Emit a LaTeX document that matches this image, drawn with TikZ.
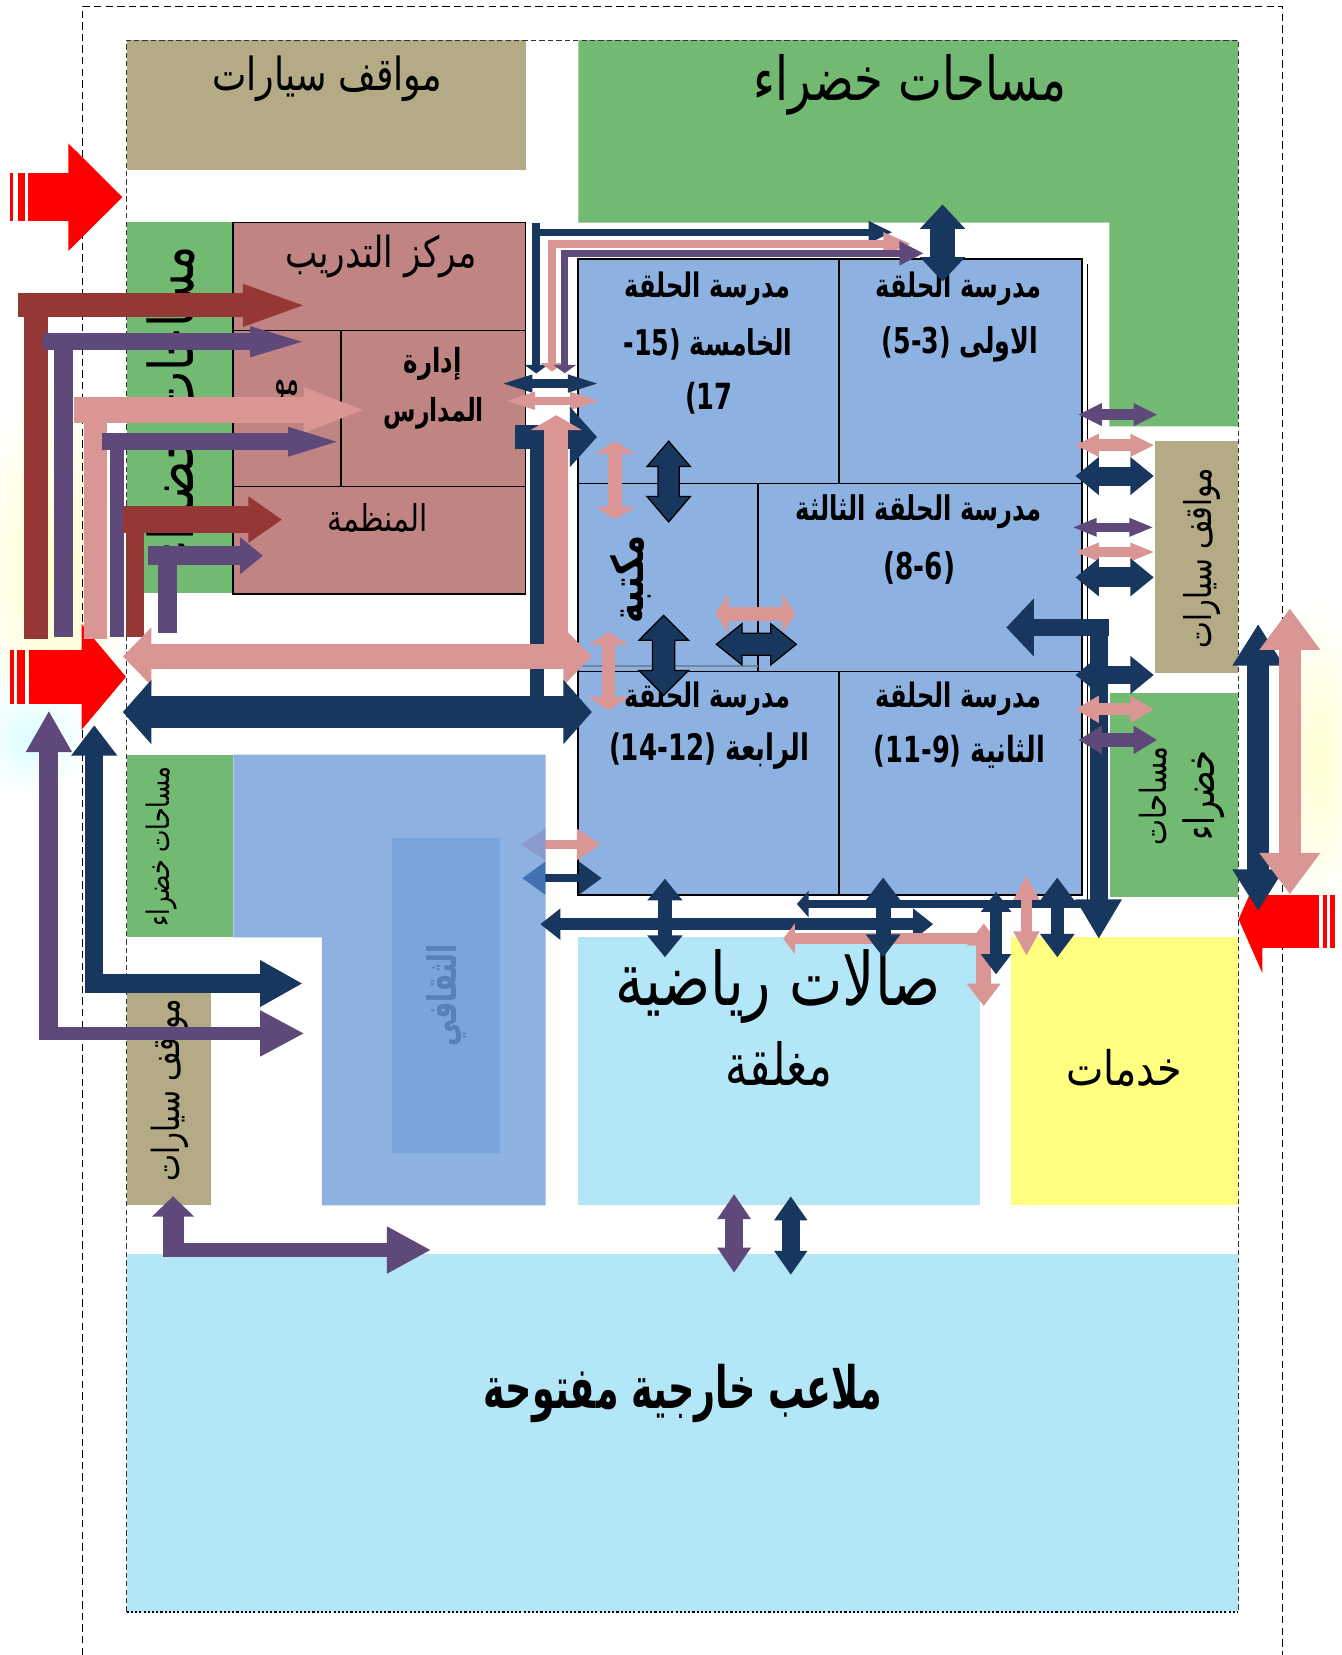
\documentclass[tikz,border=0pt]{standalone}
\usepackage{fontspec}
\usepackage{graphicx}
\setmainfont{DejaVu Sans}
\newfontfamily\arabicfont[Script=Arabic]{DejaVu Sans}
\TeXXeTstate=1
\definecolor{cNavy}{HTML}{17375E}
\definecolor{cPink}{HTML}{D99694}
\definecolor{cPurple}{HTML}{5F497A}
\definecolor{cDRed}{HTML}{953735}
\definecolor{cRed}{HTML}{FF0000}
\definecolor{cGreen}{HTML}{72B972}
\definecolor{cTan}{HTML}{B4AB86}
\definecolor{cBrown}{HTML}{C08583}
\definecolor{cBlue}{HTML}{8DB2E1}
\definecolor{cInner}{HTML}{79A5DA}
\definecolor{cCyan}{HTML}{B3E7F8}
\definecolor{cYellow}{HTML}{FFFF80}
\definecolor{cLav}{HTML}{8A9ACB}
\definecolor{cSteel}{HTML}{4471B2}
\definecolor{cCult}{HTML}{5A80B8}
\newcommand{\AR}[1]{{\arabicfont\beginR #1\endR}}
\newcommand{\ARB}[1]{{\arabicfont\bfseries\beginR #1\endR}}
\newcommand{\fitw}[3][1.25]{\scalebox{1}[#1]{\resizebox{#2pt}{!}{#3}}}
\newcommand{\tri}[6]{\begin{scope}[shift={(#2,#3)},rotate=#4]\fill[#1] (0,0) -- (-#5,#6/2) -- (-#5,-#6/2) -- cycle;\end{scope}}
\newcommand{\hdbl}[7]{\draw[#1,line width=#5pt] ({#3+#6-0.5},#2) -- ({#4-#6+0.5},#2);\tri{#1}{#3}{#2}{180}{#6}{#7}\tri{#1}{#4}{#2}{0}{#6}{#7}}
\newcommand{\vdbl}[7]{\draw[#1,line width=#5pt] (#2,{#3+#6-0.5}) -- (#2,{#4-#6+0.5});\tri{#1}{#2}{#3}{90}{#6}{#7}\tri{#1}{#2}{#4}{270}{#6}{#7}}
\newcommand{\vdblO}[6]{\filldraw[fill=cNavy,draw=black,line width=1.2pt] (#1,#2) -- ({#1+#6/2},{#2+#5}) -- ({#1+#4/2},{#2+#5}) -- ({#1+#4/2},{#3-#5}) -- ({#1+#6/2},{#3-#5}) -- (#1,#3) -- ({#1-#6/2},{#3-#5}) -- ({#1-#4/2},{#3-#5}) -- ({#1-#4/2},{#2+#5}) -- ({#1-#6/2},{#2+#5}) -- cycle;}
\newcommand{\hdblO}[6]{\filldraw[fill=cNavy,draw=black,line width=1.2pt] (#2,#1) -- ({#2+#5},{#1-#6/2}) -- ({#2+#5},{#1-#4/2}) -- ({#3-#5},{#1-#4/2}) -- ({#3-#5},{#1-#6/2}) -- (#3,#1) -- ({#3-#5},{#1+#6/2}) -- ({#3-#5},{#1+#4/2}) -- ({#2+#5},{#1+#4/2}) -- ({#2+#5},{#1+#6/2}) -- cycle;}
\begin{document}
\begin{tikzpicture}[x=1pt,y=-1pt,line cap=butt,line join=miter]
\useasboundingbox (0,0) rectangle (1271,1568);
\fill[white] (0,0) rectangle (1271,1568);
% faint background glows
\shade[inner color=yellow!22, outer color=white] (50,540) ellipse (75 and 190);
\shade[inner color=cyan!14, outer color=white] (30,700) ellipse (55 and 55);
\shade[inner color=yellow!18, outer color=white] (1250,720) ellipse (40 and 160);
% outer dashed boundary
\draw[dash pattern=on 7pt off 4pt,line width=1.4pt] (78,1568) -- (78,6) -- (1215,6) -- (1215,1568);
% zones
\fill[cTan] (120,38) rectangle (498,161);
\fill[cGreen] (548,38) -- (1173,38) -- (1173,404) -- (1051,404) -- (1051,211) -- (548,211) -- cycle;
\fill[cGreen] (120,210) rectangle (221,562);
\filldraw[fill=cBrown,draw=black,line width=1.5pt] (221,211) rectangle (498,563);
\draw[line width=1.5pt] (221,313) -- (498,313) (221,461) -- (498,461) (323,313) -- (323,461);
\fill[cGreen] (120,715) rectangle (221,888);
\fill[cBlue] (221,715) -- (517,715) -- (517,1142) -- (305,1142) -- (305,888) -- (221,888) -- cycle;
\fill[cInner] (371,794) rectangle (474,1092);
\fill[cTan] (120,940) rectangle (200,1142);
\fill[cCyan] (548,888) rectangle (928,1142);
\fill[cYellow] (958,888) rectangle (1173,1142);
\fill[cTan] (1094,418) rectangle (1173,638);
\fill[cGreen] (1052,657) rectangle (1173,850);
\fill[cCyan] (120,1188) rectangle (1173,1527);
% inner dashed boundary
\draw[black!80,dash pattern=on 5pt off 3pt,line width=1pt] (120,1527) -- (120,38) -- (1173,38) -- (1173,1527);
\draw[dash pattern=on 2pt off 2pt,line width=1.6pt] (120,1527) -- (1173,1527);
% school block
\draw[line width=1.2pt] (1030,250) -- (1030,853) -- (950,853);
\filldraw[fill=cBlue,draw=black,line width=2pt] (548,245) rectangle (1025,848);
\draw[line width=1.5pt] (548,458) -- (1025,458) (795,245) -- (795,458) (718,458) -- (718,636) (548,636) -- (1025,636) (795,636) -- (795,848);
\draw[cNavy!60,line width=1pt] (548,631) -- (718,631);
% texts
\node (tPark1) at (310,75) {\fitw{218}{\AR{مواقف سيارات}}};
\node (tGreen1) at (862,80) {\fitw[1.3]{296}{\AR{مساحات خضراء}}};
\node (tTrain) at (361,243) {\fitw{181}{\AR{مركز التدريب}}};
\node (tAdm1) at (410,345) {\fitw[1.35]{55}{\ARB{إدارة}}};
\node (tAdm2) at (411,392) {\fitw[1.35]{95}{\ARB{المدارس}}};
\node (tOrg) at (358,491) {\fitw{95}{\AR{المنظمة}}};
\node (tHid) at (272,372) {\fitw[1.9]{24}{\AR{مو}}};
\node[rotate=90] (tGreen2) at (168,383) {\fitw[1.3]{300}{\AR{مساحات خضراء}}};
\node (s5a) at (670.5,274) {\fitw[1.4]{157}{\ARB{مدرسة الحلقة}}};
\node (s5b) at (671,326) {\fitw[1.4]{160}{\bfseries -15) \ARB{الخامسة}}};
\node (s5c) at (671.5,377) {\fitw[1.4]{45}{\bfseries (17}};
\node (s1a) at (908,274) {\fitw[1.4]{157}{\ARB{مدرسة الحلقة}}};
\node (s1b) at (909.5,326) {\fitw[1.4]{148}{\bfseries (5-3) \ARB{الاولى}}};
\node (s3a) at (870.5,485) {\fitw[1.4]{233}{\ARB{مدرسة الحلقة الثالثة}}};
\node (s3b) at (871,538) {\fitw[1.4]{68}{\bfseries (8-6)}};
\node (s4a) at (670.5,662) {\fitw[1.4]{157}{\ARB{مدرسة الحلقة}}};
\node (s4b) at (672,712) {\fitw[1.4]{190}{\bfseries (14-12) \ARB{الرابعة}}};
\node (s2a) at (908,662) {\fitw[1.4]{157}{\ARB{مدرسة الحلقة}}};
\node (s2b) at (909,712) {\fitw[1.4]{162}{\bfseries (11-9) \ARB{الثانية}}};
\node[rotate=90] (tLib) at (597,549) {\fitw[1.3]{84}{\ARB{مكتبة}}};
\node[rotate=90] (tPark2) at (1139,529) {\fitw[1.3]{170}{\AR{مواقف سيارات}}};
\node[rotate=90] (tGreen3a) at (1093,754) {\fitw[1.3]{94}{\AR{مساحات}}};
\node[rotate=90] (tGreen3b) at (1140,754) {\fitw[1.3]{85}{\AR{خضراء}}};
\node[rotate=90] (tGreen4) at (153,802) {\fitw[1.3]{151}{\AR{مساحات خضراء}}};
\node[rotate=90] (tPark3) at (161,1033) {\fitw[1.3]{172}{\AR{مواقف سيارات}}};
\node[rotate=90,text=cCult] (tCult) at (423,943) {\fitw[1.5]{97}{\ARB{الثقافي}}};
\node (tSport1) at (737,935) {\fitw[1.3]{308}{\AR{صالات رياضية}}};
\node (tSport2) at (738,1008) {\fitw[1.3]{101}{\AR{مغلقة}}};
\node (tServ) at (1065,1012) {\fitw[1.2]{110}{\AR{خدمات}}};
\node (tPlay) at (647,1320) {\fitw[1.6]{377}{\ARB{ملاعب خارجية مفتوحة}}};
% red entrance arrows
\fill[cRed] (9.3,164) rectangle (12.7,209.5);
\fill[cRed] (17,164) rectangle (23.3,209.5);
\draw[cRed,line width=45.5pt] (26.2,186.8) -- (65.5,186.8);
\tri{cRed}{116}{186.8}{0}{51.3}{102}
\fill[cRed] (9.5,616) rectangle (13.3,666.6);
\fill[cRed] (15.8,616) rectangle (23.7,666.6);
\draw[cRed,line width=50.6pt] (27.5,641.3) -- (78,641.3);
\tri{cRed}{119.4}{641.3}{0}{42}{100}
\fill[cRed] (1253,848) rectangle (1257,898);
\fill[cRed] (1260,848) rectangle (1265,898);
\draw[cRed,line width=50pt] (1250,873) -- (1195,873);
\tri{cRed}{1173.5}{871}{180}{22.5}{102}
% left bent arrows into training centre
\draw[cDRed,line width=22.8pt] (34.4,605) -- (34.4,278);
\draw[cDRed,line width=22.5pt] (17,289.3) -- (231,289.3);
\tri{cDRed}{287}{289.3}{0}{57}{41}
\draw[cPurple,line width=18pt] (60,603.5) -- (60,315.7);
\draw[cPurple,line width=16pt] (41,323.8) -- (238,323.8);
\tri{cPurple}{286}{323.8}{0}{49}{29.6}
\draw[cPink,line width=22pt] (90.6,605) -- (90.6,376);
\draw[cPink,line width=25pt] (70,388.5) -- (289,388.5);
\tri{cPink}{343.6}{388.5}{0}{55.8}{43.6}
\draw[cPurple,line width=13pt] (110.6,603.5) -- (110.6,410.6);
\draw[cPurple,line width=16pt] (97,418.5) -- (274,418.5);
\tri{cPurple}{319}{418.5}{0}{46}{28.4}
\draw[cDRed,line width=17.4pt] (128,603.5) -- (128,479.6);
\draw[cDRed,line width=25pt] (117,492.3) -- (236,492.3);
\tri{cDRed}{267}{492.3}{0}{31.6}{44}
\draw[cPurple,line width=18pt] (158.5,599.7) -- (158.5,517.5);
\draw[cPurple,line width=18pt] (140.6,526.5) -- (228.5,526.5);
\tri{cPurple}{249}{526.5}{0}{21.5}{35}
% lower-left bent arrows
\draw[cPurple,line width=18pt] (46.3,712) -- (46.3,985.4);
\draw[cPurple,line width=12.6pt] (37.3,979.1) -- (247,979.1);
\tri{cPurple}{46.3}{674}{90}{38.6}{44}
\tri{cPurple}{287.5}{979.1}{0}{41}{44}
\draw[cNavy,line width=17.4pt] (89.3,715.5) -- (89.3,940.6);
\draw[cNavy,line width=17.6pt] (80.6,931.8) -- (247,931.8);
\tri{cNavy}{89.3}{687.3}{90}{28.7}{44}
\tri{cNavy}{286}{931.8}{0}{39.6}{44.6}
\draw[cPurple,line width=20pt] (164,1152) -- (164,1191.3);
\draw[cPurple,line width=14pt] (154,1184.3) -- (367,1184.3);
\tri{cPurple}{164}{1133.4}{90}{19.3}{40}
\tri{cPurple}{407.6}{1184.3}{0}{41.1}{45}
% thin bent arrows along the top of the school
\draw[cNavy,line width=7pt] (508,211.7) -- (508,347);
\tri{cNavy}{508}{353.8}{270}{8}{22}
\draw[cNavy,line width=7pt] (504.5,220) -- (824,220);
\tri{cNavy}{845}{220}{0}{22}{21.3}
\draw[cPink,line width=7pt] (523,227.5) -- (523,345);
\tri{cPink}{523}{352}{270}{8}{22}
\draw[cPink,line width=7pt] (519.5,231) -- (838,231);
\tri{cPink}{862.6}{231}{0}{25.6}{22}
\draw[cPurple,line width=7pt] (535,236.5) -- (535,347);
\tri{cPurple}{535}{353.6}{270}{8}{22}
\draw[cPurple,line width=7pt] (531.5,240) -- (853,240);
\tri{cPurple}{874.6}{240}{0}{22.6}{23.5}
\vdbl{cNavy}{893}{193.8}{266.6}{23}{23}{43}
% gap arrows left of the school
\hdbl{cNavy}{363.4}{477}{565.6}{8}{27.5}{17.4}
\hdbl{cPink}{379.8}{480}{567}{8}{27}{17.4}
\draw[cNavy,line width=14pt] (508.7,403) -- (508.7,690);
\draw[cNavy,line width=22pt] (488,414) -- (541,414);
\tri{cNavy}{565.6}{414}{0}{25.6}{57}
\draw[cPink,line width=23pt] (527,407) -- (527,622);
\tri{cPink}{527}{393.4}{90}{14.2}{49}
\hdbl{cPink}{622}{116.4}{560.7}{24.5}{27}{55}
\hdbl{cNavy}{674.6}{116.4}{560.7}{30.3}{27}{61}
% library arrows
\vdbl{cPink}{583}{418}{492}{13}{12}{38}
\vdbl{cPink}{576.6}{598.7}{673}{13}{12.5}{38}
\hdbl{cPink}{581.4}{677.7}{753.6}{13}{12.3}{37}
\vdblO{633.5}{418}{494.5}{20}{24}{41}
\vdblO{628.8}{583}{658.8}{21}{23.6}{47}
\hdblO{610.4}{678.7}{754.5}{21}{24.3}{39}
% right side of the school
\hdbl{cPurple}{392.8}{1022}{1096}{11}{22}{22}
\hdbl{cPink}{421.8}{1019}{1093}{11}{22}{22}
\hdbl{cNavy}{451}{1019}{1093}{18}{22}{36}
\hdbl{cPurple}{499.6}{1017}{1092}{8.5}{22}{18}
\hdbl{cPink}{523}{1019}{1093}{9}{22}{18}
\hdbl{cNavy}{547}{1019}{1093}{19}{22}{36}
\tri{cNavy}{953.5}{594.5}{180}{26}{55}
\draw[cNavy,line width=17pt] (979,594.5) -- (1051,594.5);
\draw[cNavy,line width=17pt] (1041,586) -- (1041,853);
\tri{cNavy}{1041}{889}{270}{37}{44}
\hdbl{cNavy}{639.5}{1019}{1093}{17}{22}{36}
\hdbl{cPink}{672}{1019}{1093}{11}{22}{26}
\hdbl{cPurple}{701}{1022}{1096}{14}{22}{27}
% far right vertical arrows
\vdbl{cNavy}{1192}{591.7}{862.6}{20.5}{39}{49}
\vdbl{cPink}{1222}{576.8}{847}{20.5}{39}{58}
% cultural centre small arrows
\draw[cPink,line width=8pt] (515,800) -- (547,800);
\tri{cLav}{494}{800}{180}{22.6}{30}
\tri{cPink}{569}{800}{0}{22.4}{30}
\draw[cNavy,line width=8pt] (516,832) -- (549,832);
\tri{cSteel}{495}{832}{180}{21.6}{31.6}
\tri{cNavy}{570}{832}{0}{21.6}{31.6}
% below the school
\hdbl{cNavy}{875.6}{512}{884}{11.5}{19}{30}
\draw[cNavy,line width=7pt] (765,856.5) -- (1034,856.5);
\tri{cNavy}{755}{856.5}{180}{11}{25}
\draw[cPink,line width=10pt] (752,889.4) -- (939,889.4);
\tri{cPink}{742}{889.4}{180}{11}{28.6}
\vdbl{cPink}{932}{875}{953}{14}{21}{32}
\vdbl{cNavy}{630}{832.6}{906.8}{14}{20.5}{33.5}
\vdbl{cNavy}{836.7}{831.5}{906.8}{14}{21.5}{33}
\vdbl{cNavy}{943.7}{845}{923}{12}{19}{29}
\vdbl{cPink}{972.5}{830}{905}{10}{22.5}{25}
\vdbl{cNavy}{1001.7}{831.5}{906.8}{12}{22}{33}
% between sports halls and playgrounds
\vdbl{cPurple}{695.5}{1131.5}{1205.6}{17}{23.5}{32}
\vdbl{cNavy}{749.2}{1133.6}{1207.6}{17}{22.5}{31.6}
\end{tikzpicture}
\end{document}
